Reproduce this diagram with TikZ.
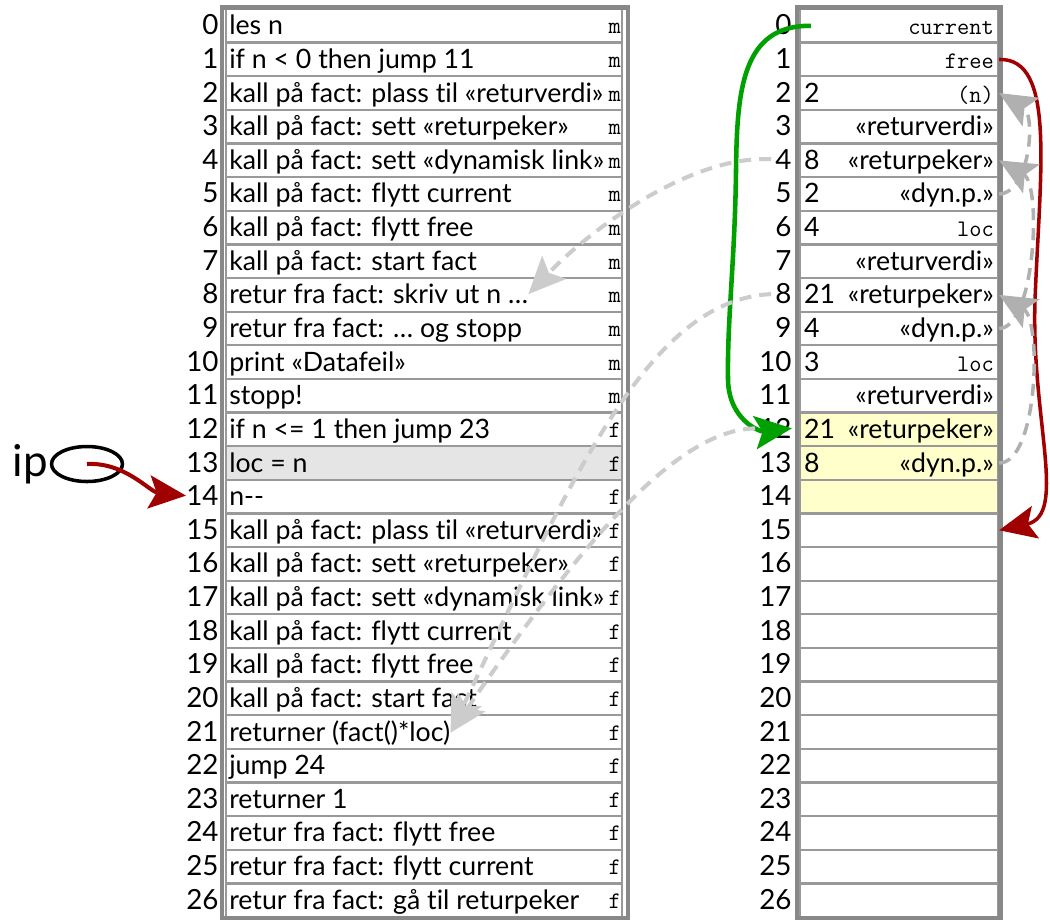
\documentclass[tikz,border=0pt]{standalone}
\usepackage{fontspec}
\setmainfont{Lato}[Ligatures=NoCommon]
\usetikzlibrary{arrows.meta,calc,shapes.geometric}
\definecolor{framegray}{HTML}{888888}
\definecolor{cellgray}{HTML}{999999}
\definecolor{ipred}{HTML}{A00000}
\definecolor{curgreen}{HTML}{00A000}
\definecolor{retgray}{HTML}{CCCCCC}
\definecolor{dyngray}{HTML}{B0B0B0}
\definecolor{frameyellow}{HTML}{FFFFCC}
\definecolor{ipgray}{HTML}{E5E5E5}
\newcommand{\txtfont}{\fontsize{15.2}{18}\selectfont}
\newcommand{\numfont}{\fontsize{15.8}{18}\selectfont}
\newcommand{\segfont}{\fontsize{13.5}{15}\selectfont\ttfamily}
\tikzset{
	cell/.style={draw=cellgray, fill=white, line width=1.3pt, minimum height=0.6726cm, inner sep=0pt},
	progcell/.style={cell, minimum width=7.92cm},
	stackcell/.style={cell, minimum width=3.96cm},
	pfill13/.style={fill=ipgray},
	sfill12/.style={fill=frameyellow},
	sfill13/.style={fill=frameyellow},
	sfill14/.style={fill=frameyellow},
	rownum/.style={anchor=base east, inner sep=0pt, font=\numfont},
	celltxt/.style={anchor=base west, inner sep=0pt, font=\txtfont},
	seg/.style={anchor=base east, inner sep=0pt, font=\segfont},
	frame/.style={draw=framegray, line width=2.5pt},
	tip/.style={-{Stealth[length=0.74cm, width=0.66cm, inset=0.15cm]}},
	ipptr/.style={tip, draw=ipred, line width=2.3pt},
	freeptr/.style={tip, draw=ipred, line width=2pt},
	curptr/.style={tip, draw=curgreen, line width=2.6pt},
	retptr/.style={tip, draw=retgray, line width=2.3pt, dash pattern=on 0.24cm off 0.16cm, shorten <=0.08cm},
	dynptr/.style={tip, draw=dyngray, line width=2pt, dash pattern=on 0.24cm off 0.16cm}
}
\begin{document}
\begin{tikzpicture}[x=0.02cm, y=-0.02cm]
	\useasboundingbox (0,0) rectangle (1050,921);
	\foreach \txt/\seg [count=\i from 0] in {
		{les n}/m, {if n < 0 then jump 11}/m,
		{kall på fact: plass til «returverdi»}/m, {kall på fact: sett «returpeker»}/m,
		{kall på fact: sett «dynamisk link»}/m, {kall på fact: flytt current}/m,
		{kall på fact: flytt free}/m, {kall på fact: start fact}/m,
		{retur fra fact: skriv ut n \ldots}/m, {retur fra fact: \ldots\ og stopp}/m,
		{print «Datafeil»}/m, {stopp!}/m,
		{if n <= 1 then jump 23}/f, {loc = n}/f, {n-{}-}/f,
		{kall på fact: plass til «returverdi»}/f, {kall på fact: sett «returpeker»}/f,
		{kall på fact: sett «dynamisk link»}/f, {kall på fact: flytt current}/f,
		{kall på fact: flytt free}/f, {kall på fact: start fact}/f,
		{returner (fact()*loc)}/f, {jump 24}/f, {returner 1}/f,
		{retur fra fact: flytt free}/f, {retur fra fact: flytt current}/f,
		{retur fra fact: gå til returpeker}/f}
	{
		\node[progcell, pfill\i/.try] (p\i) at (424, {25.8+33.63*\i}) {};
		\node[rownum] (pn\i) at ($(p\i.west)+(-6,9)$) {\i};
		\node[celltxt] (pt\i) at ($(p\i.west)+(4,9)$) {\txt};
		\node[seg] (ps\i) at ($(p\i.east)+(-2,8)$) {\seg};
	}
	\draw[frame] (222,7.5) rectangle (628,918);
	\foreach \val/\tag [count=\i from 0] in {
		{}/{\segfont current}, {}/{\segfont free}, 2/{\segfont (n)}, {}/«returverdi»,
		8/«returpeker», 2/«dyn.p.», 4/{\segfont loc}, {}/«returverdi»,
		21/«returpeker», 4/«dyn.p.», 3/{\segfont loc}, {}/«returverdi»,
		21/«returpeker», 8/«dyn.p.», {}/{}, {}/{}, {}/{}, {}/{}, {}/{}, {}/{},
		{}/{}, {}/{}, {}/{}, {}/{}, {}/{}, {}/{}, {}/{}}
	{
		\node[stackcell, sfill\i/.try] (s\i) at (899, {25.8+33.63*\i}) {};
		\node[rownum] (sn\i) at ($(s\i.west)+(-7,9)$) {\i};
		\node[celltxt] (sv\i) at ($(s\i.west)+(5,9)$) {\val};
		\node[celltxt, anchor=base east] (st\i) at ($(s\i.east)+(-5,9)$) {\tag};
	}
	\draw[frame] (797,7.5) rectangle (1000.5,918);
	\node[draw, line width=2pt, ellipse, minimum width=1.42cm, minimum height=0.7cm] (ipbox) at (87,464) {};
	\node[anchor=east, inner sep=1pt, font=\fontsize{25}{29}\selectfont] (iplabel) at (ipbox.west) {ip};
	\draw[ipptr] (ipbox.center) .. controls (125,462) and (150,492) .. (pn14.west);
	\draw[curptr] ($(s0.west)+(12,0)$)
		.. controls (742,25) and (737,90) .. (736,170)
		.. controls (735,260) and (727,320) .. (728,380)
		.. controls (729,420) and (760,432) .. (sn12.east);
	\draw[freeptr] (s1.east) .. controls (1056,58) and (1040,170) .. (1035,300)
		.. controls (1031,420) and (1068,515) .. (s15.east);
	\draw[retptr] (sn4.west) .. controls (690,155) and (590,230) .. (pt8.east);
	\draw[retptr] (sn8.west) .. controls (650,300) and (575,470) .. (pt21.east);
	\draw[retptr] (sn12.west) .. controls (680,430) and (590,530) .. (pt21.east);
	\draw[dynptr] (s5.east) .. controls (1030,193) and (1036,115) .. (s2.east);
	\draw[dynptr] (s9.east) .. controls (1035,328) and (1042,185) .. (s4.east);
	\draw[dynptr] (s13.east) .. controls (1038,463) and (1042,320) .. (s8.east);
\end{tikzpicture}
\end{document}
